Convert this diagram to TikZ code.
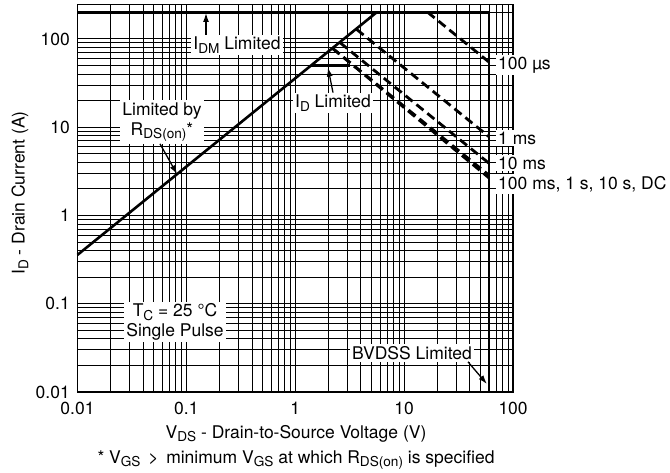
\documentclass[tikz,border=0pt]{standalone}
\usepackage{fontspec}
\setmainfont{TeX Gyre Heros}
\usetikzlibrary{arrows.meta}

\newcommand{\subtxt}[1]{\raisebox{-3.6pt}{\fontsize{13.6}{14}\selectfont #1}}

\tikzset{
  gridline/.style={line width=0.8pt},
  limit/.style={line width=2.6pt},
  pulse/.style={line width=2.8pt, dash pattern=on 9pt off 5pt},
  tag/.style={fill=white, inner sep=2pt, align=center, font=\fontsize{17.5}{20}\selectfont},
  ticklbl/.style={inner sep=0pt, font=\fontsize{17.5}{20}\selectfont},
  pointer/.style={-{Latex[length=9pt,width=6pt]}, line width=1.3pt},
}

\begin{document}
\begin{tikzpicture}[x=1pt,y=1pt]
\useasboundingbox (0,0) rectangle (670,472);

% log-log plot area, one unit = one decade (0.01 A / 0.01 V at the origin)
\begin{scope}[shift={(77.5,80)}, x=108.9pt, y=88.3pt]
  \foreach \d in {0,...,3}{
    \foreach \k in {1,...,9}{
      \draw[gridline] ({\d+log10(\k)},0) -- ({\d+log10(\k)},4.388);
      \draw[gridline] (0,{\d+log10(\k)}) -- (4,{\d+log10(\k)});
    }
  }
  \foreach \y in {4,4.301} \draw[gridline] (0,\y) -- (4,\y);
  \draw[line width=1.6pt] (0,0) rectangle (4,4.388);

  % SOA boundary points
  \coordinate (rdsA) at (0,1.553);
  \coordinate (rdsB) at (2.748,4.301);
  \coordinate (idmA) at (0,4.301);
  \coordinate (bvTop) at (3.778,4.301);
  \coordinate (bvBot) at (3.778,0);
  \coordinate (idA) at (2.146,3.699);
  \coordinate (idB) at (2.5,3.699);
  \coordinate (usA) at (3.215,4.301);   \coordinate (usB) at (3.778,3.737);
  \coordinate (msA) at (2.563,4.107);   \coordinate (msB) at (3.778,2.892);
  \coordinate (tenA) at (2.413,3.954);  \coordinate (tenB) at (3.778,2.591);
  \coordinate (hunA) at (2.342,3.892);  \coordinate (hunB) at (3.778,2.456);
  \coordinate (dcB) at (3.778,2.425);
  \coordinate (rdsTip) at (0.914,2.467);
  \coordinate (idTip) at (2.30,3.675);
  \coordinate (bvTip) at (3.76,0.09);

  \draw[limit] (rdsA) -- (rdsB);
  \draw[limit] (idmA) -- (bvTop) -- (bvBot);
  \draw[limit] (idA) -- (idB);
  \draw[pulse] (usA) -- (usB);
  \draw[pulse] (msA) -- (msB);
  \draw[pulse] (tenA) -- (tenB);
  \draw[pulse] (hunA) -- (hunB);
  \draw[pulse] (hunA) -- (dcB);
\end{scope}

% tick labels
\node[ticklbl, anchor=base east] (y1) at (70,73.7) {0.01};
\node[ticklbl, anchor=base east] (y2) at (70,162) {0.1};
\node[ticklbl, anchor=base east] (y3) at (70,250.3) {1};
\node[ticklbl, anchor=base east] (y4) at (70,338.6) {10};
\node[ticklbl, anchor=base east] (y5) at (70,426.9) {100};
\node[ticklbl, anchor=base] (x1) at (77.5,58) {0.01};
\node[ticklbl, anchor=base] (x2) at (186.4,58) {0.1};
\node[ticklbl, anchor=base] (x3) at (295.3,58) {1};
\node[ticklbl, anchor=base] (x4) at (404.2,58) {10};
\node[ticklbl, anchor=base] (x5) at (513.1,58) {100};

% axis titles
\node[ticklbl, rotate=90] (ytitle) at (20,279) {I\subtxt{D} - Drain Current (A)};
\node[ticklbl, anchor=base] (xtitle) at (296,34) {V\subtxt{DS} - Drain-to-Source Voltage (V)};
\node[ticklbl, anchor=base] (note) at (296,9) {* V\subtxt{GS} \,>\, minimum V\subtxt{GS} at which R\subtxt{DS(on)} is specified};

% labels
\coordinate (idmTip) at (206,459);
\node[tag] (idmTag) at (237,427) {I\subtxt{DM} Limited};
\node[tag] (rdsTag) at (162,350) {Limited by\\R\subtxt{DS(on)}*};
\node[tag] (idTag) at (333,369) {I\subtxt{D} Limited};
\node[tag] (tcTag) at (175,150) {T\subtxt{C} = 25 °C\\Single Pulse};
\node[tag] (bvTag) at (412,119) {BVDSS Limited};
\node[tag, anchor=west] (usTag) at (496,407) {100 µs};
\node[tag, anchor=west] (msTag) at (496,334) {1 ms};
\node[tag, anchor=west] (tenTag) at (496,309) {10 ms};
\node[tag, anchor=west] (dcTag) at (496,288) {100 ms, 1 s, 10 s, DC};

\draw[pointer] (idmTag.north -| idmTip) -- (idmTip);
\draw[pointer] ([xshift=-2pt]rdsTag.south) -- (rdsTip);
\draw[pointer] (idTag.north) -- (idTip);
\draw[pointer] ([xshift=-6pt]bvTag.south east) -- (bvTip);
\end{tikzpicture}
\end{document}
